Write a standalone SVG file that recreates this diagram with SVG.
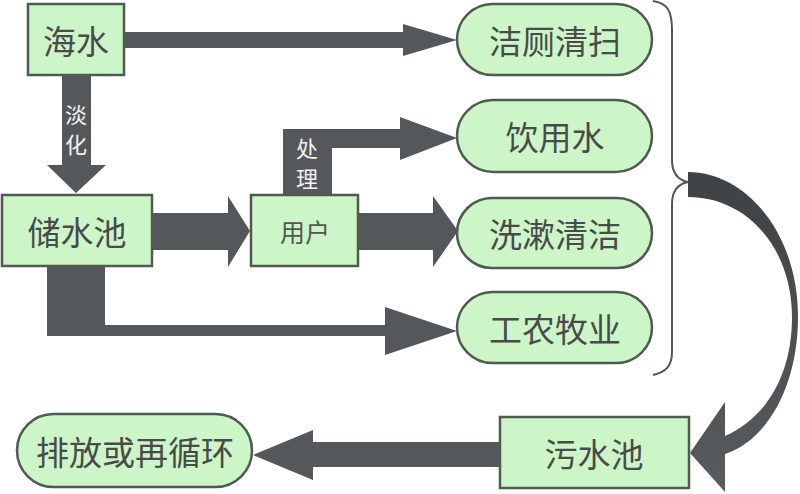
<svg xmlns="http://www.w3.org/2000/svg" width="800" height="494" viewBox="0 0 800 494">
<defs>
<style>
.box{fill:#ccf6c8;stroke:#4f5a50;stroke-width:2.5}
.arr{fill:#54585b}
.t{font-family:"Noto Sans CJK SC","Noto Sans",sans-serif;fill:#4a4a4a;text-anchor:middle;dominant-baseline:central}
.big{font-size:33px}
.lbl{font-size:22px;fill:#f2f2f2}
.brace{fill:none;stroke:#555;stroke-width:2}
</style>
<linearGradient id="cg" x1="0" y1="0" x2="0" y2="1">
<stop offset="0" stop-color="#3f4244"/>
<stop offset="1" stop-color="#585c5f"/>
</linearGradient>
</defs>
<rect width="800" height="494" fill="#ffffff"/>
<g id="connectors">
<polygon class="arr" points="124,32 403,32 403,24 457,40 403,56 403,48 124,48"/>
<polygon class="arr" points="62,75 91,75 91,165 106,165 76,193 47,165 62,165"/>
<polygon class="arr" points="152,213 228,213 228,196 250,231 228,267 228,250 152,250"/>
<polygon class="arr" points="283,195 283,129 400,129 400,117 457,138 400,160 400,148 332,148 332,195"/>
<polygon class="arr" points="358,213 433,213 433,196 458,231 433,267 433,250 358,250"/>
<polygon class="arr" points="47,266 105,266 105,325 385,325 385,307 457,331 385,355 385,336 47,336"/>
<polygon class="arr" points="500,442 313,442 313,430 253,455 313,480 313,467 500,467"/>
<path class="brace" d="M653,1 C668,3 672,12 672,30 L672,160 C672,174 678,180 688,182 C678,184 672,190 672,204 L672,352 C672,366 666,372 653,375"/>
<path fill="url(#cg)" d="M688,172 C745,172 798,232 798,317 C798,385 768,440 725,454 L725,492 L690,453 L725,402 L725,436 C762,420 792,380 792,317 C792,248 747,197 688,197 Z"/>
<text class="t lbl" x="76" y="113">淡</text>
<text class="t lbl" x="76" y="143">化</text>
<text class="t lbl" x="307" y="147">处</text>
<text class="t lbl" x="307" y="177">理</text>
</g>
<g id="n-haishui"><rect class="box" x="28" y="4" width="96" height="71"/><text class="t big" x="76" y="40">海水</text></g>
<g id="n-chushuichi"><rect class="box" x="2" y="195" width="150" height="71"/><text class="t big" x="77" y="231">储水池</text></g>
<g id="n-yonghu"><rect class="box" x="251" y="195" width="107" height="71"/><text class="t" style="font-size:25px;fill:#555" x="305" y="231">用户</text></g>
<g id="n-jiece"><rect class="box" x="457" y="4" width="195" height="71" rx="35.5"/><text class="t big" x="555" y="40">洁厕清扫</text></g>
<g id="n-yinyong"><rect class="box" x="457" y="100" width="195" height="72" rx="36"/><text class="t big" x="555" y="136">饮用水</text></g>
<g id="n-xishu"><rect class="box" x="457" y="198" width="195" height="70" rx="35"/><text class="t big" x="555" y="233">洗漱清洁</text></g>
<g id="n-gongnong"><rect class="box" x="457" y="292" width="195" height="71" rx="35.5"/><text class="t big" x="555" y="328">工农牧业</text></g>
<g id="n-wushuichi"><rect class="box" x="500" y="417" width="189" height="71"/><text class="t big" x="594" y="453">污水池</text></g>
<g id="n-paifang"><rect class="box" x="17" y="414" width="235" height="73" rx="36.5"/><text class="t big" x="135" y="451">排放或再循环</text></g>
</svg>
